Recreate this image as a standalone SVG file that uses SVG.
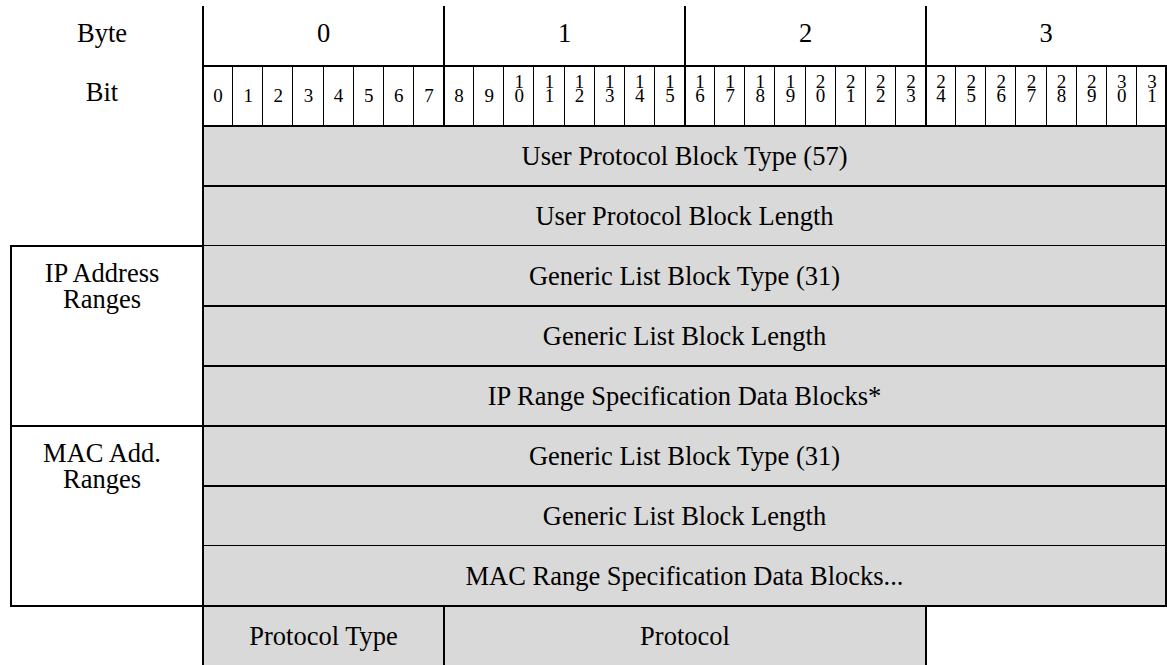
<svg xmlns="http://www.w3.org/2000/svg" width="1167" height="665" viewBox="0 0 1167 665">
<style>
text{fill:#000;text-anchor:middle}
.lbl{font-size:26.5px}
.bit{font-size:19px}
.cell{fill:#d9d9d9;stroke:none}
.thick{stroke:#000;stroke-width:2;fill:none}
.thin{stroke:#000;stroke-width:1;fill:none}
</style>
<rect width="1167" height="665" fill="#fff"/>
<g font-family="'Liberation Serif', 'Times New Roman', serif">
<g id="header">
<text class="lbl" x="102" y="42">Byte</text>
<text class="lbl" x="323.5" y="42">0</text>
<text class="lbl" x="564.5" y="42">1</text>
<text class="lbl" x="805.5" y="42">2</text>
<text class="lbl" x="1046" y="42">3</text>
<text class="lbl" x="102" y="101">Bit</text>
<g class="bit">
<text x="218.1" y="101.5">0</text><text x="248.2" y="101.5">1</text><text x="278.3" y="101.5">2</text><text x="308.4" y="101.5">3</text>
<text x="338.6" y="101.5">4</text><text x="368.7" y="101.5">5</text><text x="398.8" y="101.5">6</text><text x="428.9" y="101.5">7</text>
<text x="459.1" y="101.5">8</text><text x="489.2" y="101.5">9</text>
<text x="519.3" y="87.5">1<tspan x="519.3" dy="14.5">0</tspan></text>
<text x="549.4" y="87.5">1<tspan x="549.4" dy="14.5">1</tspan></text>
<text x="579.6" y="87.5">1<tspan x="579.6" dy="14.5">2</tspan></text>
<text x="609.7" y="87.5">1<tspan x="609.7" dy="14.5">3</tspan></text>
<text x="639.8" y="87.5">1<tspan x="639.8" dy="14.5">4</tspan></text>
<text x="669.9" y="87.5">1<tspan x="669.9" dy="14.5">5</tspan></text>
<text x="700.1" y="87.5">1<tspan x="700.1" dy="14.5">6</tspan></text>
<text x="730.2" y="87.5">1<tspan x="730.2" dy="14.5">7</tspan></text>
<text x="760.3" y="87.5">1<tspan x="760.3" dy="14.5">8</tspan></text>
<text x="790.4" y="87.5">1<tspan x="790.4" dy="14.5">9</tspan></text>
<text x="820.6" y="87.5">2<tspan x="820.6" dy="14.5">0</tspan></text>
<text x="850.7" y="87.5">2<tspan x="850.7" dy="14.5">1</tspan></text>
<text x="880.8" y="87.5">2<tspan x="880.8" dy="14.5">2</tspan></text>
<text x="910.9" y="87.5">2<tspan x="910.9" dy="14.5">3</tspan></text>
<text x="941.1" y="87.5">2<tspan x="941.1" dy="14.5">4</tspan></text>
<text x="971.2" y="87.5">2<tspan x="971.2" dy="14.5">5</tspan></text>
<text x="1001.3" y="87.5">2<tspan x="1001.3" dy="14.5">6</tspan></text>
<text x="1031.4" y="87.5">2<tspan x="1031.4" dy="14.5">7</tspan></text>
<text x="1061.6" y="87.5">2<tspan x="1061.6" dy="14.5">8</tspan></text>
<text x="1091.7" y="87.5">2<tspan x="1091.7" dy="14.5">9</tspan></text>
<text x="1121.8" y="87.5">3<tspan x="1121.8" dy="14.5">0</tspan></text>
<text x="1151.9" y="87.5">3<tspan x="1151.9" dy="14.5">1</tspan></text>
</g>
</g>
<g id="gray-fill">
<rect class="cell" x="203" y="126" width="963" height="480"/>
<rect class="cell" x="203" y="606" width="723" height="59"/>
</g>
<g id="row-upbt"><text class="lbl" x="684.5" y="165">User Protocol Block Type (57)</text></g>
<g id="row-upbl"><text class="lbl" x="684.5" y="225">User Protocol Block Length</text></g>
<g id="row-glbt1"><text class="lbl" x="684.5" y="285">Generic List Block Type (31)</text></g>
<g id="row-glbl1"><text class="lbl" x="684.5" y="345">Generic List Block Length</text></g>
<g id="row-iprange"><text class="lbl" x="684.5" y="405">IP Range Specification Data Blocks*</text></g>
<g id="row-glbt2"><text class="lbl" x="684.5" y="465">Generic List Block Type (31)</text></g>
<g id="row-glbl2"><text class="lbl" x="684.5" y="525">Generic List Block Length</text></g>
<g id="row-macrange"><text class="lbl" x="684.5" y="585">MAC Range Specification Data Blocks...</text></g>
<g id="row-protocol-type"><text class="lbl" x="323.5" y="645">Protocol Type</text></g>
<g id="row-protocol"><text class="lbl" x="685" y="645">Protocol</text></g>
<g id="ip-ranges">
<rect class="thick" x="11" y="246" width="192" height="180"/>
<text class="lbl" x="102" y="282">IP Address</text>
<text class="lbl" x="102" y="308">Ranges</text>
</g>
<g id="mac-ranges">
<rect class="thick" x="11" y="426" width="192" height="180"/>
<text class="lbl" x="102" y="462">MAC Add.</text>
<text class="lbl" x="102" y="488">Ranges</text>
</g>
</g>
<g id="connectors">
<path class="thick" d="M203 6V665M444 6V126M685 6V126M926 6V126M1166 66V606M444 606V665M926 606V665"/>
<path class="thick" d="M203 66H1167M203 126H1167M203 186H1167M203 306H1167M203 366H1167M203 426H1167M203 486H1167M11 606H1167"/>
<path class="thin" d="M203 245.5H1166M203 545.5H1166"/>
<path class="thin" d="M232.5 66V126M262.5 66V126M292.5 66V126M323.5 66V126M353.5 66V126M383.5 66V126M413.5 66V126M473.5 66V126M503.5 66V126M533.5 66V126M564.5 66V126M594.5 66V126M624.5 66V126M654.5 66V126M714.5 66V126M744.5 66V126M774.5 66V126M805.5 66V126M835.5 66V126M865.5 66V126M895.5 66V126M955.5 66V126M985.5 66V126M1015.5 66V126M1046.5 66V126M1076.5 66V126M1106.5 66V126M1136.5 66V126"/>
</g>
</svg>
